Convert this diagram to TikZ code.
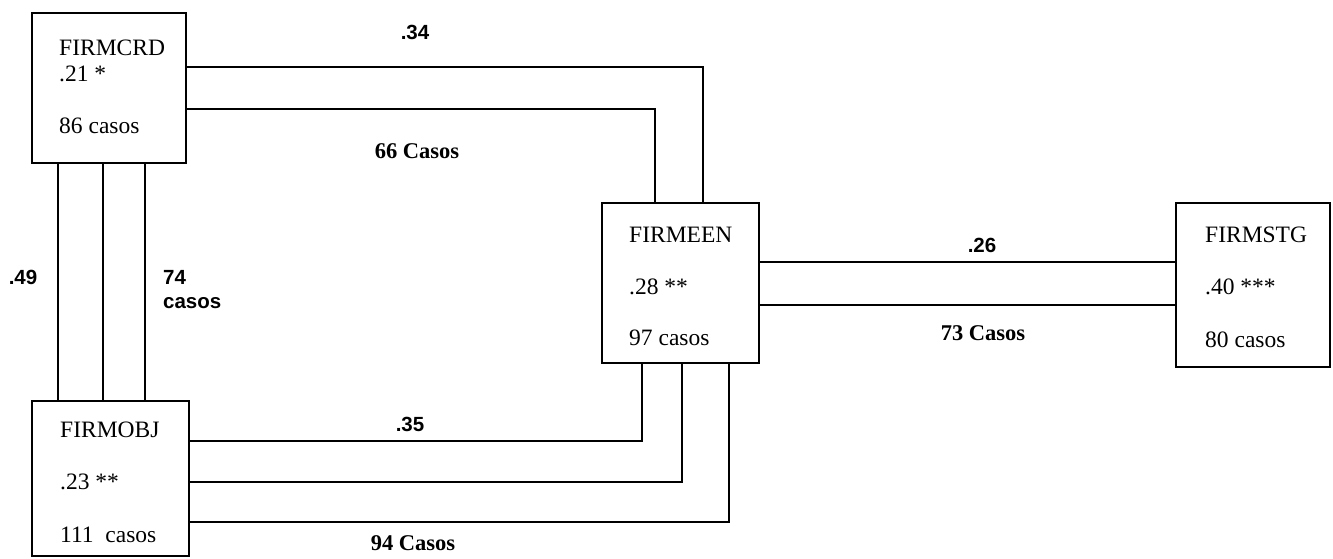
\documentclass[tikz,border=0pt]{standalone}
\usepackage{fontspec}
\setmainfont{Liberation Serif}
\newfontfamily\labelsans{Liberation Sans}
\usetikzlibrary{positioning}

\begin{document}
\begin{tikzpicture}[
    x=1pt, y=-1pt,
    firmbox/.style={
        rectangle,
        draw,
        line width=2.2pt,
        inner sep=0pt
    },
    boxtext/.style={
        anchor=west,
        inner sep=0pt,
        font=\fontsize{23.5}{26}\selectfont
    },
    link/.style={line width=2.2pt},
    numlabel/.style={inner sep=0pt, font=\labelsans\bfseries\fontsize{20.5}{22}\selectfont},
    caselabel/.style={inner sep=0pt, font=\bfseries\fontsize{22.5}{24}\selectfont}
]
\useasboundingbox (0,0) rectangle (1333,559);

% boxes
\node[firmbox, minimum width=154pt, minimum height=150pt] (crd) at (109,88) {};
\node[firmbox, minimum width=157pt, minimum height=160pt] (een) at (680.5,283) {};
\node[firmbox, minimum width=154pt, minimum height=164pt] (stg) at (1253,285) {};
\node[firmbox, minimum width=157pt, minimum height=155pt] (obj) at (110.5,478.5) {};

% box contents
\node[boxtext] (crdname) at (59,48) {FIRMCRD};
\node[boxtext] (crdr) at (59,74) {.21 *};
\node[boxtext] (crdn) at (59,126) {86 casos};

\node[boxtext] (eenname) at (629,235) {FIRMEEN};
\node[boxtext] (eenr) at (629,287) {.28 **};
\node[boxtext] (eenn) at (629,338) {97 casos};

\node[boxtext] (stgname) at (1205,235) {FIRMSTG};
\node[boxtext] (stgr) at (1205,287) {.40 ***};
\node[boxtext] (stgn) at (1205,340) {80 casos};

\node[boxtext] (objname) at (60,430) {FIRMOBJ};
\node[boxtext] (objr) at (60,482) {.23 **};
\node[boxtext] (objn) at (60,535) {111\ \ casos};

% links
\draw[link] (crd.east |- 0,67) -| (een.north -| 703,0);
\draw[link] (crd.east |- 0,109) -| (een.north -| 655,0);

\draw[link] (een.east |- 0,262) -- (stg.west |- 0,262);
\draw[link] (een.east |- 0,305) -- (stg.west |- 0,305);

\draw[link] (obj.east |- 0,441) -| (een.south -| 642,0);
\draw[link] (obj.east |- 0,482) -| (een.south -| 682,0);
\draw[link] (obj.east |- 0,522) -| (een.south -| 729,0);

\foreach \lx in {58,103,145}
    \draw[link] (crd.south -| \lx,0) -- (obj.north -| \lx,0);

% link labels
\node[numlabel] (crdeenr) at (415,32) {.34};
\node[caselabel] (crdeenn) at (417,151) {66 Casos};
\node[numlabel] (eenstgr) at (982,245) {.26};
\node[caselabel] (eenstgn) at (983,333) {73 Casos};
\node[numlabel] (objeenr) at (410,424) {.35};
\node[caselabel] (objeenn) at (413,543) {94 Casos};
\node[numlabel] (crdobjr) at (23,277) {.49};
\node[numlabel, anchor=west] (crdobjn) at (163,277) {74};
\node[numlabel, anchor=west] (crdobjc) at (163,303) {casos};
\end{tikzpicture}
\end{document}
